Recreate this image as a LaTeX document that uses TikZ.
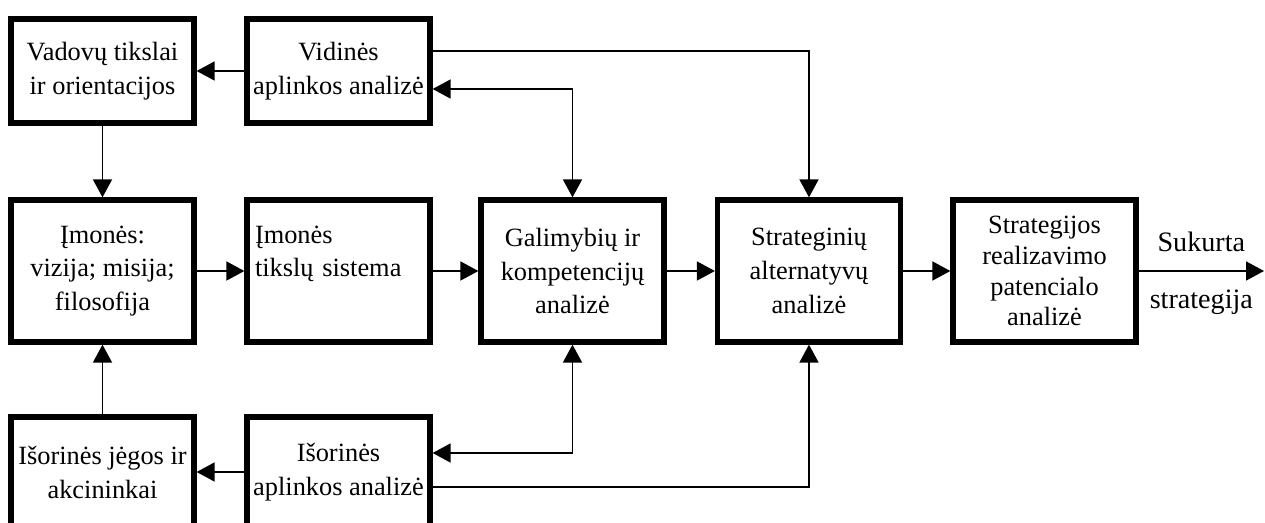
\documentclass[tikz,border=0pt]{standalone}
\usepackage{fontspec}
\setmainfont{Liberation Serif}
\usetikzlibrary{arrows.meta}

\begin{document}
\begin{tikzpicture}[
    box/.style={draw, line width=3pt, minimum width=3.66cm, align=center, inner sep=1pt,
                font=\fontsize{15}{19.3}\selectfont},
    conn/.style={-{Triangle[length=3.6mm, width=3.8mm]}, line width=1pt},
    both/.style={{Triangle[length=3.6mm, width=3.8mm]}-{Triangle[length=3.6mm, width=3.8mm]}, line width=1pt},
    lbl/.style={font=\fontsize{16}{19.3}\selectfont}
]

    \useasboundingbox (0,0) rectangle (25.3,10.44);
    \clip (0,0) rectangle (25.3,10.44);

    % top row
    \node[box, minimum height=2.08cm] (vad) at (2.05,9.02) {Vadovų tikslai\\ir orientacijos};
    \node[box, minimum height=2.08cm] (vid) at (6.77,9.02) {Vidinės\\aplinkos analizė};

    % middle row
    \node[box, minimum height=2.84cm] (imv) at (2.05,5.02) {Įmonės:\\vizija; misija;\\filosofija};
    \node[box, minimum height=2.84cm, align=left, text width=3.34cm, inner xsep=0.16cm] (ims) at (6.77,5.02) {Įmonės\\tikslų sistema\\\vphantom{filosofija}};
    \node[box, minimum height=2.84cm] (gal) at (11.45,5.02) {Galimybių ir\\kompetencijų\\analizė};
    \node[box, minimum height=2.84cm] (sta) at (16.18,5.02) {Strateginių\\alternatyvų\\analizė};
    \node[box, minimum height=2.84cm, font=\fontsize{15}{17.6}\selectfont] (pot) at (20.89,5.02) {Strategijos\\realizavimo\\patencialo\\analizė};

    % bottom row (cut at the lower edge)
    \node[box, minimum height=2.2cm] (isj) at (2.05,1.0) {Išorinės jėgos ir\\akcininkai};
    \node[box, minimum height=2.2cm] (isa) at (6.77,1.0) {Išorinės\\aplinkos analizė};

    % straight arrows
    \draw[conn] (vid.west) -- (vad.east);
    \draw[conn] (vad.south) -- (imv.north);
    \draw[conn] (isj.north) -- (imv.south);
    \draw[conn] (isa.west) -- (isj.east);
    \draw[conn] (imv.east) -- (ims.west);
    \draw[conn] (ims.east) -- (gal.west);
    \draw[conn] (gal.east) -- (sta.west);
    \draw[conn] (sta.east) -- (pot.west);

    % elbow arrows
    \draw[conn] ([yshift=0.4cm]vid.east) -| (sta.north);
    \draw[both] ([yshift=-0.36cm]vid.east) -| (gal.north);
    \draw[both] ([yshift=0.38cm]isa.east) -| (gal.south);
    \draw[conn] ([yshift=-0.3cm]isa.east) -| (sta.south);

    % output
    \coordinate (out) at (25.28,5.02);
    \draw[conn] (pot.east) -- (out)
        node[lbl, midway, above=7pt] (suk) {Sukurta}
        node[lbl, midway, below=7pt] (stg) {strategija};

\end{tikzpicture}
\end{document}
